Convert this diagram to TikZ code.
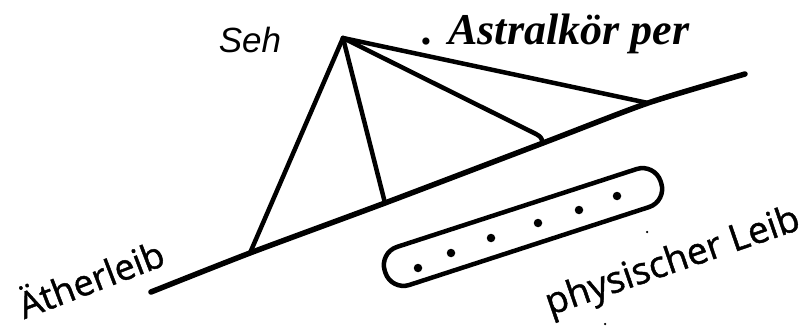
\documentclass[tikz,border=0pt]{standalone}
\usepackage{fontspec}
\setmainfont{Liberation Serif}
\newfontfamily\arialf{Liberation Sans}
\newfontfamily\handf[FakeBold=1.2]{Open Sans}
\begin{document}
\begin{tikzpicture}[x=1pt,y=-1pt,
  ink/.style={line width=4.5pt,line cap=round,line join=round},
  base/.style={line width=5.5pt,line cap=round,line join=round},
  speck/.style={fill=black,circle,inner sep=0pt,minimum size=8.5pt},
  tiny/.style={fill=black,circle,inner sep=0pt,minimum size=2.5pt},
  lab/.style={inner sep=0pt,anchor=center}]
\useasboundingbox (0,0) rectangle (812,329);
% points
\coordinate (apex) at (343,38);
\coordinate (l0) at (151,292);
\coordinate (f1) at (250,253);
\coordinate (f2) at (385,203);
\coordinate (f3) at (543,143);
\coordinate (f4) at (648,103);
\coordinate (l5) at (745,74);
\coordinate (h3) at (536,134);
% base line
\draw[base] plot[smooth,tension=0.4] coordinates {(l0) (f1) (f2) (f3) (f4) (l5)};
% legs
\draw[ink] (apex) -- (f1);
\draw[ink] (apex) -- (f2);
\draw[ink] (apex) -- (h3) .. controls (541,137) .. (f3);
\draw[ink] (apex) -- (f4);
% capsule
\node[draw,line width=4.5pt,rounded corners=19pt,minimum width=290pt,minimum height=40pt,rotate=18] (capsule) at (523,227) {};
\node[speck] (d1) at (418,268) {};
\node[speck] (d2) at (451,253) {};
\node[speck] (d3) at (491,238) {};
\node[speck] (d4) at (538,223) {};
\node[speck] (d5) at (579,210) {};
\node[speck] (d6) at (617,196) {};
\node[tiny] (s1) at (647,232) {};
\node[tiny] (s2) at (605,324) {};
% texts
\node[lab,font=\arialf\itshape\fontsize{35}{35}\selectfont] (seh) at (250,40) {Seh};
\node[lab,font=\bfseries\itshape\fontsize{44}{44}\selectfont] (astral) at (556,34) {. Astralkör per};
\node[lab,font=\handf\fontsize{36}{36}\selectfont,rotate=21] (aether) at (90,277) {Ätherleib};
\node[lab,font=\handf\fontsize{37}{37}\selectfont,rotate=19] (phys) at (673,263) {physischer Leib};
\end{tikzpicture}
\end{document}
